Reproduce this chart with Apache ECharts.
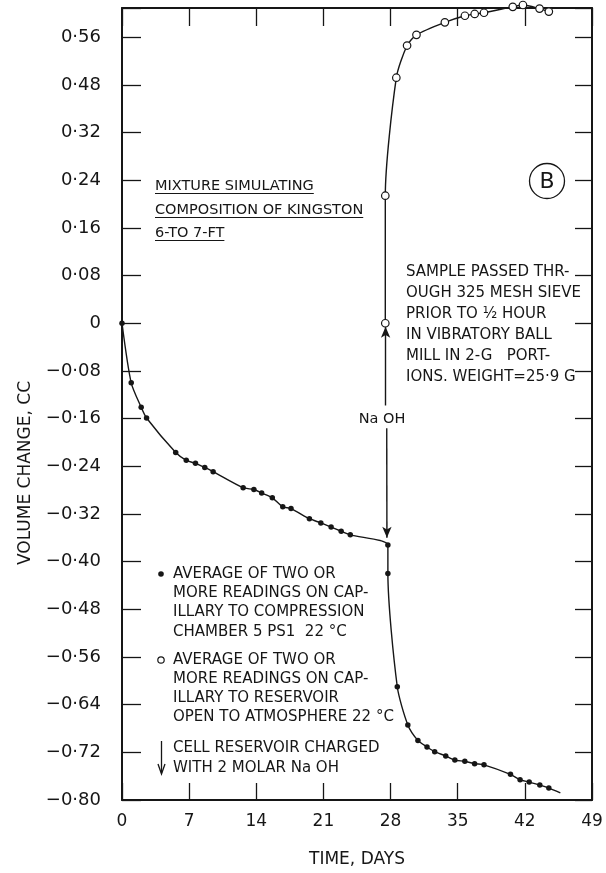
<!DOCTYPE html>
<html>
<head>
<meta charset="utf-8">
<script src="https://cdn.jsdelivr.net/npm/echarts@6/dist/echarts.min.js"></script>
<style>
  html, body { margin: 0; padding: 0; background: #fff; }
  #chart { width: 606px; height: 873px; }
</style>
</head>
<body>
<div id="chart"></div>
<script>
// Axis set-up (volume axis runs linearly in 0.08 steps; labels are printed as listed)
const Y_MIN = -0.80;
const Y_MAX = 0.529;
const Y_STEP = 0.08;
const X_MIN = 0;
const X_MAX = 49;
const X_STEP = 7;
const yTickLabels = ['−0·80', '−0·72', '−0·64', '−0·56', '−0·48', '−0·40', '−0·32', '−0·24',
  '−0·16', '−0·08', '0', '0·08', '0·16', '0·24', '0·32', '0·48', '0·56'];

// Readings on capillary to compression chamber (filled dots)
const compressionDays = [0, 0.96, 2.0, 2.56, 5.6, 6.7, 7.66, 8.63, 9.5, 12.63, 13.75, 14.56,
  15.67, 16.76, 17.62, 19.54, 20.73, 21.8, 22.85, 23.8, 27.72, 27.72, 28.7, 29.8, 30.85,
  31.8, 32.6, 33.75, 34.7, 35.74, 36.76, 37.74, 40.5, 41.5, 42.45, 43.56, 44.5];
const compressionVolume = [0, -0.100, -0.141, -0.159, -0.217, -0.230, -0.235, -0.242, -0.249,
  -0.276, -0.279, -0.285, -0.293, -0.308, -0.311, -0.328, -0.335, -0.342, -0.349, -0.355,
  -0.372, -0.420, -0.610, -0.674, -0.700, -0.711, -0.719, -0.726, -0.733, -0.735, -0.739,
  -0.741, -0.757, -0.766, -0.770, -0.775, -0.780];
// where the drawn curve runs out past the last reading
const compressionCurveEnd = [45.7, -0.788];

// Readings on capillary to reservoir open to atmosphere (open circles)
const reservoirDays = [27.45, 27.45, 28.6, 29.72, 30.7, 33.66, 35.75, 36.77, 37.74, 40.74,
  41.8, 43.53, 44.5];
const reservoirVolume = [0, 0.214, 0.412, 0.466, 0.484, 0.505, 0.516, 0.519, 0.521, 0.531,
  0.534, 0.528, 0.523];

// NaOH charge arrows (day, volume)
const naohUpArrow = [[27.48, -0.138], [27.48, -0.006]];
const naohDownArrow = [[27.6, -0.176], [27.62, -0.360]];

const INK = '#161616';
const FONT = '"DejaVu Sans", sans-serif';

const compressionData = compressionDays.map((d, i) => [d, compressionVolume[i]]);
compressionData.push({ value: compressionCurveEnd, symbol: 'none' });
const reservoirData = reservoirDays.map((d, i) => [d, reservoirVolume[i]]);

function yLabel(v) {
  const i = Math.round((v - Y_MIN) / Y_STEP);
  if (Math.abs(v - (Y_MIN + i * Y_STEP)) > 1e-6 || i < 0 || i >= yTickLabels.length) return '';
  return yTickLabels[i];
}

// text measuring for underlines
const measureCtx = document.createElement('canvas').getContext('2d');
function textWidth(t, size) {
  measureCtx.font = size + 'px "DejaVu Sans"';
  return measureCtx.measureText(t).width;
}

function textEl(t, x, y, size, align) {
  return {
    type: 'text', x: x, y: y, silent: true,
    style: { text: t, font: size + 'px ' + FONT, fill: INK,
      textAlign: align || 'left', textVerticalAlign: 'middle' }
  };
}

const graphics = [];

// sample description (underlined)
const TITLE_SIZE = 14.5;
const titleLines = ['MIXTURE SIMULATING', 'COMPOSITION OF KINGSTON', '6-TO 7-FT'];
const titleY = [186, 210, 233];
titleLines.forEach((t, i) => {
  graphics.push(textEl(t, 155, titleY[i], TITLE_SIZE));
  graphics.push({ type: 'line', silent: true,
    shape: { x1: 155, y1: titleY[i] + 7.5, x2: 155 + textWidth(t, TITLE_SIZE), y2: titleY[i] + 7.5 },
    style: { stroke: INK, lineWidth: 1 } });
});

// preparation note
const noteLines = ['SAMPLE PASSED THR-', 'OUGH 325 MESH SIEVE', 'PRIOR TO ½ HOUR',
  'IN VIBRATORY BALL', 'MILL IN 2-G   PORT-', 'IONS. WEIGHT=25·9 G'];
noteLines.forEach((t, i) => graphics.push(textEl(t, 406, 272 + i * 21, 15)));

// legend
const LEGEND_SIZE = 15;
const legendA = ['AVERAGE OF TWO OR', 'MORE READINGS ON CAP-', 'ILLARY TO COMPRESSION', 'CHAMBER 5 PS1  22 °C'];
const legendB = ['AVERAGE OF TWO OR', 'MORE READINGS ON CAP-', 'ILLARY TO RESERVOIR', 'OPEN TO ATMOSPHERE 22 °C'];
const legendC = ['CELL RESERVOIR CHARGED', 'WITH 2 MOLAR Na OH'];
legendA.forEach((t, i) => graphics.push(textEl(t, 173, 574 + i * 19.3, LEGEND_SIZE)));
legendB.forEach((t, i) => graphics.push(textEl(t, 173, 660 + i * 19.1, LEGEND_SIZE)));
legendC.forEach((t, i) => graphics.push(textEl(t, 173, 748 + i * 20, LEGEND_SIZE)));
graphics.push({ type: 'circle', silent: true, shape: { cx: 161, cy: 574, r: 2.8 }, style: { fill: INK } });
graphics.push({ type: 'circle', silent: true, shape: { cx: 161, cy: 660, r: 3.2 },
  style: { fill: '#fff', stroke: INK, lineWidth: 1.2 } });
graphics.push({ type: 'line', silent: true, shape: { x1: 161.5, y1: 741, x2: 161.5, y2: 773 },
  style: { stroke: INK, lineWidth: 1.3 } });
graphics.push({ type: 'polyline', silent: true,
  shape: { points: [[158, 764], [161.5, 774], [165, 764]] },
  style: { stroke: INK, lineWidth: 1.3, fill: null } });

// NaOH label between the arrows
graphics.push(textEl('Na OH', 382, 419, 14.5, 'center'));

// panel mark
graphics.push({ type: 'circle', silent: true, shape: { cx: 547, cy: 181, r: 17.5 },
  style: { fill: null, stroke: INK, lineWidth: 1.3 } });
graphics.push(textEl('B', 547, 182, 22, 'center'));

// volume axis title
graphics.push({ type: 'text', x: 26, y: 473, rotation: Math.PI / 2, silent: true,
  style: { text: 'VOLUME CHANGE, CC', font: '17px ' + FONT, fill: INK,
    textAlign: 'center', textVerticalAlign: 'middle' } });

const frameLine = { show: true, onZero: false, lineStyle: { color: INK, width: 2 } };

const chart = echarts.init(document.getElementById('chart'), null, { renderer: 'canvas' });
chart.setOption({
  backgroundColor: '#fff',
  animation: false,
  grid: { left: 122, right: 14, top: 8, bottom: 64, containLabel: false },
  xAxis: [
    {
      type: 'value', min: X_MIN, max: X_MAX, interval: X_STEP, position: 'bottom',
      name: 'TIME, DAYS', nameLocation: 'middle', nameGap: 51,
      nameTextStyle: { fontFamily: FONT, fontSize: 17, color: INK },
      axisLine: frameLine,
      axisTick: { show: true, inside: true, length: 17, lineStyle: { color: INK, width: 1.3 } },
      axisLabel: { fontFamily: FONT, fontSize: 17, color: INK, margin: 13 },
      splitLine: { show: false }
    },
    {
      type: 'value', min: X_MIN, max: X_MAX, interval: X_STEP, position: 'top',
      axisLine: frameLine,
      axisTick: { show: true, inside: true, length: 18, lineStyle: { color: INK, width: 1.3 } },
      axisLabel: { show: false },
      splitLine: { show: false }
    }
  ],
  yAxis: [
    {
      type: 'value', min: Y_MIN, max: Y_MAX, interval: Y_STEP, position: 'left',
      axisLine: frameLine,
      axisTick: { show: true, inside: true, length: 19, lineStyle: { color: INK, width: 1.3 } },
      axisLabel: { fontFamily: FONT, fontSize: 18, color: INK, margin: 21, formatter: yLabel },
      splitLine: { show: false }
    },
    {
      type: 'value', min: Y_MIN, max: Y_MAX, interval: Y_STEP, position: 'right',
      axisLine: frameLine,
      axisTick: { show: true, inside: true, length: 17, lineStyle: { color: INK, width: 1.3 } },
      axisLabel: { show: false },
      splitLine: { show: false }
    }
  ],
  series: [
    {
      name: 'compression', type: 'line', xAxisIndex: 0, yAxisIndex: 0,
      data: compressionData, smooth: 0.25, clip: false,
      symbol: 'circle', symbolSize: 5.5,
      itemStyle: { color: INK },
      lineStyle: { color: INK, width: 1.4 },
      z: 3
    },
    {
      name: 'reservoir', type: 'line', xAxisIndex: 0, yAxisIndex: 0,
      data: reservoirData, smooth: 0.25, clip: false,
      symbol: 'circle', symbolSize: 7.5,
      itemStyle: { color: '#fff', borderColor: INK, borderWidth: 1.2 },
      lineStyle: { color: INK, width: 1.4 },
      z: 4,
      markLine: {
        silent: true, animation: false,
        symbol: ['none', 'arrow'], symbolSize: [7, 11],
        label: { show: false },
        lineStyle: { color: INK, width: 1.4, type: 'solid' },
        data: [
          [{ coord: naohUpArrow[0] }, { coord: naohUpArrow[1] }],
          [{ coord: naohDownArrow[0] }, { coord: naohDownArrow[1] }]
        ]
      }
    }
  ],
  graphic: { elements: graphics }
});
</script>
</body>
</html>
